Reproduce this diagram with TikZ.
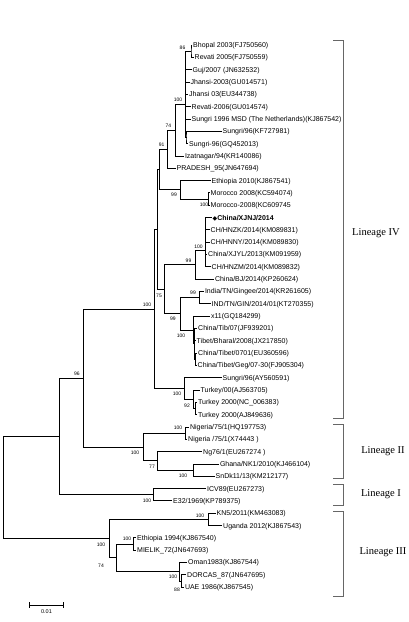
\documentclass[tikz,border=0pt]{standalone}
\usepackage{fontspec}
\setmainfont{Liberation Sans}
\newfontfamily\linfont{Liberation Serif}
\newfontfamily\symfont{DejaVu Sans}

\begin{document}
\begin{tikzpicture}[x=1pt,y=-1pt,line width=0.65pt,
  leaf/.style={anchor=west,inner xsep=1.2pt,inner ysep=0pt,outer sep=0pt,text height=5pt,text depth=0pt,font=\fontsize{7}{7}\selectfont},
  boot/.style={inner sep=0pt,font=\fontsize{5}{5}\selectfont},
  lin/.style={inner sep=0pt,font=\linfont\fontsize{10.5}{11}\selectfont}]
        \useasboundingbox (0,0) rectangle (408,622);
        % taxa
        \node[leaf] (t1) at (192,45.0) {Bhopal 2003(FJ750560)};
        \node[leaf] (t2) at (193.5,57.3) {Revati 2005(FJ750559)};
        \node[leaf] (t3) at (191.5,69.6) {Guj/2007 (JN632532)};
        \node[leaf] (t4) at (189.5,82.0) {Jhansi-2003(GU014571)};
        \node[leaf] (t5) at (188,94.3) {Jhansi 03(EU344738)};
        \node[leaf] (t6) at (190.5,106.6) {Revati-2006(GU014574)};
        \node[leaf] (t7) at (190.5,118.9) {Sungri 1996 MSD (The Netherlands)(KJ867542)};
        \node[leaf] (t8) at (221.5,131.2) {Sungri/96(KF727981)};
        \node[leaf] (t9) at (188,143.6) {Sungri-96(GQ452013)};
        \node[leaf] (t10) at (183.8,155.9) {Izatnagar/94(KR140086)};
        \node[leaf] (t11) at (175.5,168.2) {PRADESH\_95(JN647694)};
        \node[leaf] (t12) at (210.5,180.5) {Ethiopia 2010(KJ867541)};
        \node[leaf] (t13) at (209.5,192.8) {Morocco 2008(KC594074)};
        \node[leaf] (t14) at (209.5,205.2) {Morocco-2008(KC609745};
        \node[leaf] (t15) at (211.5,217.5) {{\symfont\fontsize{6}{6}\selectfont ◆}\bfseries China/XJNJ/2014};
        \node[leaf] (t16) at (209.5,229.8) {CH/HNZK/2014(KM089831)};
        \node[leaf] (t17) at (209.5,242.1) {CH/HNNY/2014(KM089830)};
        \node[leaf] (t18) at (207,254.4) {China/XJYL/2013(KM091959)};
        \node[leaf] (t19) at (210.5,266.8) {CH/HNZM/2014(KM089832)};
        \node[leaf] (t20) at (213.8,279.1) {China/BJ/2014(KP260624)};
        \node[leaf] (t21) at (203.8,291.4) {India/TN/Gingee/2014(KR261605)};
        \node[leaf] (t22) at (210.5,303.7) {IND/TN/GIN/2014/01(KT270355)};
        \node[leaf] (t23) at (209.8,316.0) {x11(GQ184299)};
        \node[leaf] (t24) at (197,328.4) {China/Tib/07(JF939201)};
        \node[leaf] (t25) at (195.5,340.7) {Tibet/Bharal/2008(JX217850)};
        \node[leaf] (t26) at (197,353.0) {China/Tibet/0701(EU360596)};
        \node[leaf] (t27) at (196.5,365.3) {China/Tibet/Geg/07-30(FJ905304)};
        \node[leaf] (t28) at (221.5,377.6) {Sungri/96(AY560591)};
        \node[leaf] (t29) at (199.5,390.0) {Turkey/00(AJ563705)};
        \node[leaf] (t30) at (197,402.3) {Turkey 2000(NC\_006383)};
        \node[leaf] (t31) at (197,414.6) {Turkey 2000(AJ849636)};
        \node[leaf] (t32) at (188.8,426.9) {Nigeria/75/1(HQ197753)};
        \node[leaf] (t33) at (187,439.2) {Nigeria /75/1(X74443 )};
        \node[leaf] (t34) at (202,451.6) {Ng76/1(EU267274 )};
        \node[leaf] (t35) at (218.8,463.9) {Ghana/NK1/2010(KJ466104)};
        \node[leaf] (t36) at (214.5,476.2) {SnDk11/13(KM212177)};
        \node[leaf] (t37) at (206,488.5) {ICV89(EU267273)};
        \node[leaf] (t38) at (172,500.8) {E32/1969(KP789375)};
        \node[leaf] (t39) at (215.5,513.2) {KN5/2011(KM463083)};
        \node[leaf] (t40) at (222,525.5) {Uganda 2012(KJ867543)};
        \node[leaf] (t41) at (136,537.8) {Ethiopia 1994(KJ867540)};
        \node[leaf] (t42) at (136,550.1) {MIELIK\_72(JN647693)};
        \node[leaf] (t43) at (187,562.4) {Oman1983(KJ867544)};
        \node[leaf] (t44) at (186,574.8) {DORCAS\_87(JN647695)};
        \node[leaf] (t45) at (183.8,587.1) {UAE 1986(KJ867545)};

        % inner nodes
        \coordinate (n86) at (191,51.2);
        \coordinate (nS) at (186,137.4);
        \coordinate (n100a) at (185.5,104);
        \coordinate (n74) at (175,130);
        \coordinate (n91) at (167,149.1);
        \coordinate (nMor) at (208,199);
        \coordinate (nEM) at (180,189.7);
        \coordinate (Na1) at (159,169.4);
        \coordinate (nCh) at (205,250);
        \coordinate (n99c) at (195,264.5);
        \coordinate (n99i) at (199,297.5);
        \coordinate (nTib2) at (195,359.2);
        \coordinate (nTib) at (194,343.8);
        \coordinate (n100t) at (193,329.9);
        \coordinate (n99x) at (180,313.7);
        \coordinate (n75) at (164,289.1);
        \coordinate (Na) at (157,229.4);
        \coordinate (nT92) at (195,408.5);
        \coordinate (nT) at (193,399.2);
        \coordinate (nST) at (184,388.4);
        \coordinate (n4) at (154,308.9);
        \coordinate (n96) at (83,378);
        \coordinate (nNig) at (185,433.1);
        \coordinate (nG) at (193,470.1);
        \coordinate (n77) at (157,460.8);
        \coordinate (n2) at (143,447);
        \coordinate (n1) at (153,494.7);
        \coordinate (nR2) at (59,436.3);
        \coordinate (nKU) at (208,519.4);
        \coordinate (nEth) at (133,544);
        \coordinate (n88) at (181,581);
        \coordinate (nO) at (179,571.7);
        \coordinate (n74III) at (116,557.8);
        \coordinate (n3) at (109,538.6);
        \coordinate (root) at (3,487.5);

        % branches
        \draw (t1.west) -| (n86) |- (t2.west);
        \draw (n100a) |- (n86) (n100a) |- (t3.west) (n100a) |- (t4.west) (n100a) |- (t5.west) (n100a) |- (t6.west) (n100a) |- (t7.west) (n100a) |- (nS);
        \draw (t8.west) -| (nS) |- (t9.west);
        \draw (n74) |- (n100a) (n74) |- (t10.west);
        \draw (n91) |- (n74) (n91) |- (t11.west);
        \draw (nMor) |- (t13.west) (nMor) |- (t14.west);
        \draw (nEM) |- (t12.west) (nEM) |- (nMor);
        \draw (Na1) |- (n91) (Na1) |- (nEM);
        \draw (nCh) |- (t15.west) (nCh) |- (t16.west) (nCh) |- (t17.west) (nCh) |- (t18.west) (nCh) |- (t19.west);
        \draw (n99c) |- (nCh) (n99c) |- (t20.west);
        \draw (n99i) |- (t21.west) (n99i) |- (t22.west);
        \draw (nTib2) |- (t26.west) (nTib2) |- (t27.west);
        \draw (nTib) |- (t24.west) (nTib) |- (t25.west) (nTib) |- (nTib2);
        \draw (n100t) |- (t23.west) (n100t) |- (nTib);
        \draw (n99x) |- (n99i) (n99x) |- (n100t);
        \draw (n75) |- (n99c) (n75) |- (n99x);
        \draw (Na) |- (Na1) (Na) |- (n75);
        \draw (nT92) |- (t30.west) (nT92) |- (t31.west);
        \draw (nT) |- (t29.west) (nT) |- (nT92);
        \draw (nST) |- (t28.west) (nST) |- (nT);
        \draw (n4) |- (Na) (n4) |- (nST);
        \draw (nNig) |- (t32.west) (nNig) |- (t33.west);
        \draw (nG) |- (t35.west) (nG) |- (t36.west);
        \draw (n77) |- (t34.west) (n77) |- (nG);
        \draw (n2) |- (nNig) (n2) |- (n77);
        \draw (n96) |- (n4) (n96) |- (n2);
        \draw (n1) |- (t37.west) (n1) |- (t38.west);
        \draw (nR2) |- (n96) (nR2) |- (n1);
        \draw (nKU) |- (t39.west) (nKU) |- (t40.west);
        \draw (nEth) |- (t41.west) (nEth) |- (t42.west);
        \draw (n88) |- (t44.west) (n88) |- (t45.west);
        \draw (nO) |- (t43.west) (nO) |- (n88);
        \draw (n74III) |- (nEth) (n74III) |- (nO);
        \draw (n3) |- (nKU) (n3) |- (n74III);
        \draw (root) |- (nR2) (root) |- (n3);

        % bootstrap values
        \node[boot] (b86) at (182.5,47.5) {86};
        \node[boot] (b100a) at (178,99.5) {100};
        \node[boot] (b74) at (168.3,126) {74};
        \node[boot] (b91) at (161.7,145) {91};
        \node[boot] (bEM) at (174,195) {99};
        \node[boot] (bMor) at (204,204.5) {100};
        \node[boot] (bCh) at (198.5,246.5) {100};
        \node[boot] (b99c) at (188.5,261) {99};
        \node[boot] (b75) at (159,296) {75};
        \node[boot] (b99i) at (193,293) {99};
        \node[boot] (b99x) at (173,319) {99};
        \node[boot] (b100t) at (181,336) {100};
        \node[boot] (b4) at (147,305) {100};
        \node[boot] (b96) at (77,374) {96};
        \node[boot] (bST) at (177,394) {100};
        \node[boot] (bT) at (187,406) {92};
        \node[boot] (b2) at (135,453) {100};
        \node[boot] (bNig) at (178,428) {100};
        \node[boot] (b77) at (152,467) {77};
        \node[boot] (bG) at (183,476) {100};
        \node[boot] (b1) at (147,501) {100};
        \node[boot] (bKU) at (200,516) {100};
        \node[boot] (b3) at (101,545) {100};
        \node[boot] (b74III) at (101,566) {74};
        \node[boot] (bEth) at (127,539) {100};
        \node[boot] (bO) at (173,577) {100};
        \node[boot] (b88) at (177,590) {88};

        % scale bar
        \coordinate (s1) at (29,605);
        \coordinate (s2) at (64,605);
        \draw[|-|] (s1) -- (s2);
        \node[boot,font=\fontsize{5.5}{5.5}\selectfont] (sl) at (46.5,612) {0.01};

        % lineages
        \draw[black!60] (333,40) -- (343,40) -- (343,418) -- (333,418);
        \draw[black!60] (333,424) -- (343,424) -- (343,478) -- (333,478);
        \draw[black!60] (333,484) -- (343,484) -- (343,505) -- (333,505);
        \draw[black!60] (333,511) -- (343,511) -- (343,596) -- (333,596);
        \node[lin] (L4) at (376,233) {Lineage IV};
        \node[lin] (L2) at (383,451) {Lineage II};
        \node[lin] (L1) at (381,494) {Lineage I};
        \node[lin] (L3) at (383,552) {Lineage III};
\end{tikzpicture}
\end{document}
